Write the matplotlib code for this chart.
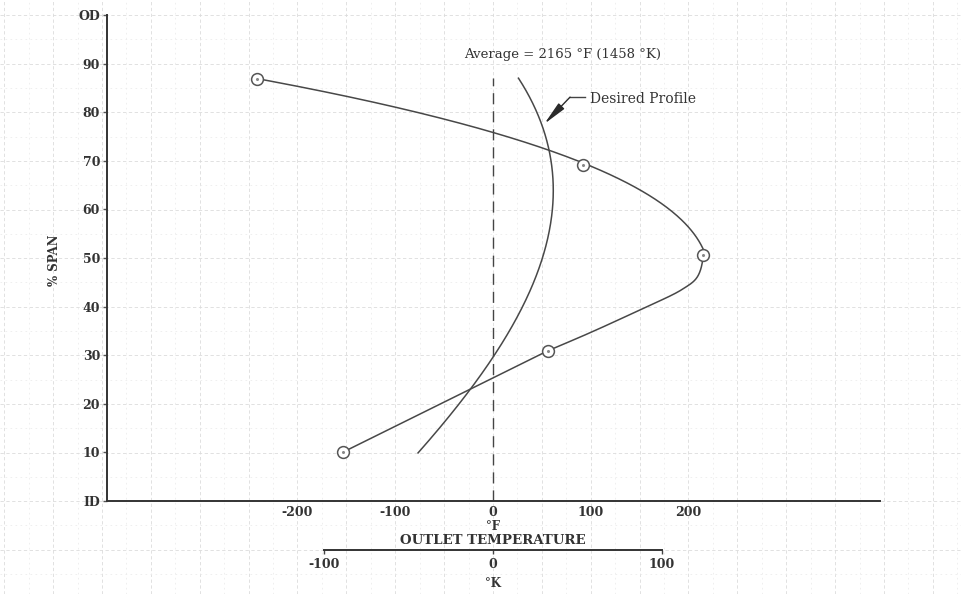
import numpy as np
import matplotlib
matplotlib.use("Agg")
import matplotlib.pyplot as plt

# ---------------- data ----------------
# measured points (circles): outlet temperature deviation (°F) vs % span
meas_x = [-241, 92, 215, 56, -153]
meas_y = [86.8, 69.1, 50.6, 30.9, 10.1]

# faired curve through the measured points (traced)
# upper branch (from the OD point down to the hottest point)
up_x = [-241, -180, -95, 0, 58, 92, 150, 191, 209, 215]
up_y = [86.8, 84.6, 80.9, 75.9, 72.2, 69.1, 64.0, 58.4, 55.1, 50.6]
# lower branch (hottest point down to the 30 % point)
lo_x = [215, 209, 194, 150, 99, 56]
lo_y = [50.6, 46.1, 43.6, 39.3, 34.6, 30.9]
# straight part of the faired curve
line_x = [56, -153]
line_y = [30.9, 10.1]

# desired profile (traced)
des_x = [24.6, 51.0, 59.3, 61.4, 58.3, 47.1, 34.8, 17.4, 2.0, -18.4, -44.0, -77.7]
des_y = [87.0, 77.8, 71.8, 66.7, 58.4, 49.6, 41.4, 34.6, 30.5, 24.3, 17.3, 9.9]

avg_top = 87.0          # top of dashed average line
F_PER_K = 1.73          # scale of the K axis as drawn

y_ticks = [0, 10, 20, 30, 40, 50, 60, 70, 80, 90, 100]
y_labels = ['ID', '10', '20', '30', '40', '50', '60', '70', '80', '90', 'OD']
xf_ticks = [-200, -100, 0, 100, 200]
xk_ticks = [-100, 0, 100]

# ---------------- helpers ----------------
SX, SY = 0.9775, 4.86   # px per data unit (for spline parametrisation)


def catmull_rom(xs, ys, start_phantom=None, n=40, alpha=0.5):
    P = np.column_stack([np.asarray(xs) * SX, np.asarray(ys) * SY]).astype(float)
    if start_phantom is None:
        first = 2 * P[0] - P[1]
    else:
        first = np.array([start_phantom[0] * SX, start_phantom[1] * SY])
    P = np.vstack([first, P, 2 * P[-1] - P[-2]])
    out = []
    for i in range(1, len(P) - 2):
        p0, p1, p2, p3 = P[i - 1], P[i], P[i + 1], P[i + 2]
        t0 = 0.0
        t1 = t0 + np.linalg.norm(p1 - p0) ** alpha
        t2 = t1 + np.linalg.norm(p2 - p1) ** alpha
        t3 = t2 + np.linalg.norm(p3 - p2) ** alpha
        t = np.linspace(t1, t2, n)[:, None]
        A1 = (t1 - t) / (t1 - t0) * p0 + (t - t0) / (t1 - t0) * p1
        A2 = (t2 - t) / (t2 - t1) * p1 + (t - t1) / (t2 - t1) * p2
        A3 = (t3 - t) / (t3 - t2) * p2 + (t - t2) / (t3 - t2) * p3
        B1 = (t2 - t) / (t2 - t0) * A1 + (t - t0) / (t2 - t0) * A2
        B2 = (t3 - t) / (t3 - t1) * A2 + (t - t1) / (t3 - t1) * A3
        C = (t2 - t) / (t2 - t1) * B1 + (t - t1) / (t2 - t1) * B2
        out.append(C if i == 1 else C[1:])
    C = np.vstack(out)
    return C[:, 0] / SX, C[:, 1] / SY


def smooth_x_of_y(xs, ys, deg):
    """Least-squares smooth of traced points, x as a function of y."""
    c = np.polyfit(ys, xs, deg)
    yy = np.linspace(min(ys), max(ys), 300)
    return np.polyval(c, yy), yy


# ---------------- figure ----------------
plt.rcParams['font.family'] = ['DejaVu Serif']
fig = plt.figure(figsize=(9.62, 5.94), dpi=100)
fig.patch.set_facecolor('white')

# graph-paper background
bg = fig.add_axes([0, 0, 1, 1], zorder=0)
bg.set_xlim(-504.3, 479.8)
bg.set_ylim(-19.1, 103.1)
bg.axis('off')
for gx in np.arange(-500, 480, 25):
    major = (gx % 50 == 0)
    bg.axvline(gx, color='#dcdcdc' if major else '#ececec', lw=0.6,
               ls=(0, (4, 3)) if major else (0, (2, 4)), zorder=0)
for gy in np.arange(-15, 104, 5):
    major = (gy % 10 == 0)
    bg.axhline(gy, color='#dcdcdc' if major else '#ececec', lw=0.6,
               ls=(0, (4, 3)) if major else (0, (2, 4)), zorder=0)

ax = fig.add_axes([107 / 962, (594 - 501) / 594, (880 - 107) / 962, (501 - 15) / 594], zorder=1)
ax.patch.set_alpha(0)
ax.set_xlim((107 - 493) / SX, (880 - 493) / SX)
ax.set_ylim(0, 100)

for s in ['top', 'right']:
    ax.spines[s].set_visible(False)
for s in ['left', 'bottom']:
    ax.spines[s].set_linewidth(1.4)
    ax.spines[s].set_color('#333333')

ax.set_yticks(y_ticks)
ax.set_yticklabels(y_labels, fontweight='bold', fontsize=9, color='#333333')
ax.set_xticks(xf_ticks)
ax.set_xticklabels([str(v) for v in xf_ticks], fontweight='bold', fontsize=9, color='#333333')
ax.tick_params(axis='y', direction='out', length=3, width=1, pad=2, color='#555555')
ax.tick_params(axis='x', length=0, pad=3.5)

LC = '#484848'
# average dashed line
ax.plot([0, 0], [0, avg_top], color='#444444', lw=1.0, ls=(0, (8, 5)), zorder=2)

# faired curve: upper branch (smoothed), lower branch (spline), straight part
ux, uy = smooth_x_of_y(up_x, up_y, 3)
ax.plot(ux, uy, color=LC, lw=1.1, zorder=3)
lx, ly = catmull_rom(lo_x, lo_y, start_phantom=(lo_x[0] - 3, lo_y[0] + 5))
ax.plot(lx, ly, color=LC, lw=1.1, zorder=3)
ax.plot(line_x, line_y, color=LC, lw=1.1, zorder=3)

# desired profile
dx, dy = smooth_x_of_y(des_x, des_y, 3)
ax.plot(dx, dy, color=LC, lw=1.1, zorder=3)

# measured points
ax.plot(meas_x, meas_y, ls='none', marker='o', ms=8.5, mfc='white',
        mec='#555555', mew=1.1, zorder=4, clip_on=False)
ax.plot(meas_x, meas_y, ls='none', marker='o', ms=1.2, mfc='#888888',
        mec='#888888', zorder=5, clip_on=False)

# texts
ax.text(71.6, 91.8, 'Average = 2165 °F (1458 °K)', ha='center', va='center',
        fontsize=9.5, color='#333333')
ax.text(99.0, 82.7, 'Desired Profile', ha='left', va='center',
        fontsize=10, color='#333333')
ax.plot([78.8, 94.5], [83.1, 83.1], color='#444444', lw=1.0, zorder=3)
ax.annotate('', xy=(52.5, 77.6), xytext=(78.8, 83.1),
            arrowprops=dict(arrowstyle='-|>,head_length=1.2,head_width=0.2',
                            color='#2a2a2a', lw=1.0, shrinkA=0, shrinkB=0,
                            mutation_scale=12), zorder=4)

ax.text(0, -5.2, '°F', ha='center', va='center', fontsize=8.5,
        fontweight='bold', color='#333333', clip_on=False)
ax.text(0, -8.2, 'OUTLET TEMPERATURE', ha='center', va='center', fontsize=9.6,
        fontweight='bold', color='#333333', clip_on=False)
ax.text(0, -16.9, '°K', ha='center', va='center', fontsize=8.5,
        fontweight='bold', color='#333333', clip_on=False)

fig.text(55 / 962, 1 - 260 / 594, '% SPAN', rotation=90, ha='center', va='center',
         fontsize=8.5, fontweight='bold', color='#333333')

# Kelvin axis
sec = ax.secondary_xaxis(-(550 - 501) / 486,
                         functions=(lambda f: np.asarray(f) / F_PER_K,
                                    lambda k: np.asarray(k) * F_PER_K))
sec.spines['top'].set_visible(False)
sec.spines['bottom'].set_bounds(-100, 100)
sec.spines['bottom'].set_linewidth(1.4)
sec.spines['bottom'].set_color('#333333')
sec.set_xticks(xk_ticks)
sec.set_xticklabels([str(v) for v in xk_ticks], fontweight='bold', fontsize=9,
                    color='#333333')
sec.tick_params(axis='x', direction='out', length=3, width=1, pad=3, color='#444444')

fig.savefig('out.png', dpi=100, facecolor='white')
